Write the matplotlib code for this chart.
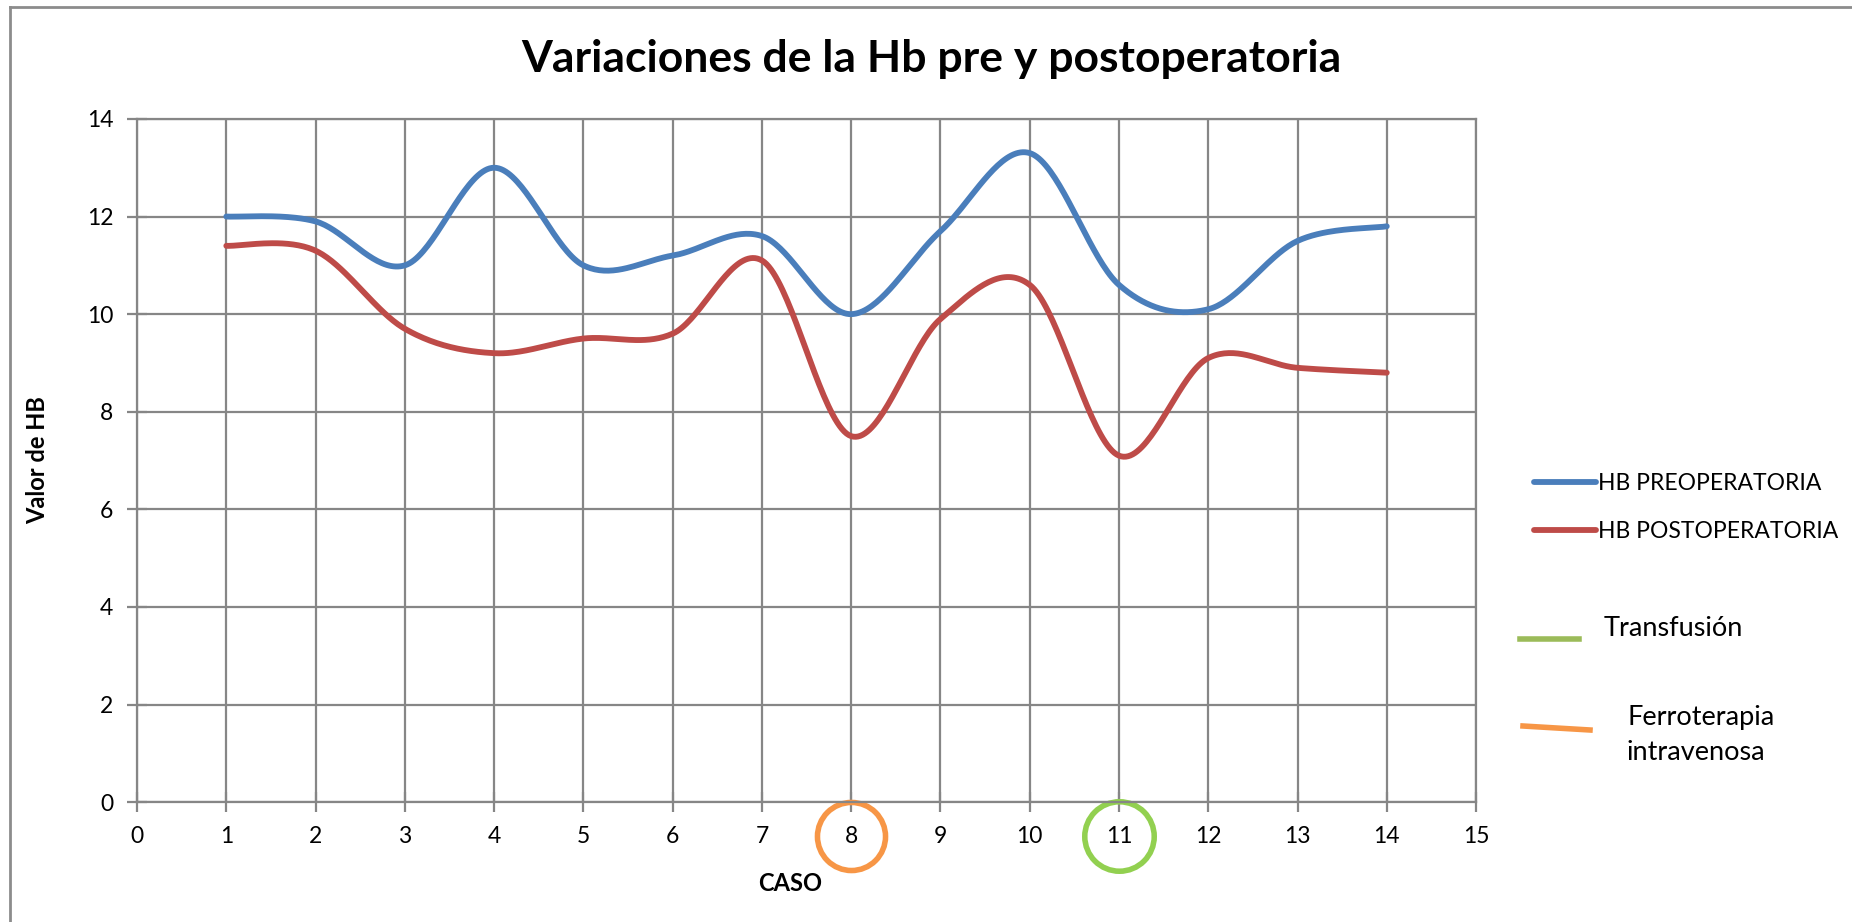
import numpy as np
import matplotlib
matplotlib.use("Agg")
import matplotlib.pyplot as plt
import matplotlib.transforms as mtransforms
from matplotlib.lines import Line2D

plt.rcParams['font.family'] = ['Lato', 'DejaVu Sans']

caso = [1, 2, 3, 4, 5, 6, 7, 8, 9, 10, 11, 12, 13, 14]
hb_pre = [12.0, 11.9, 11.0, 13.0, 11.0, 11.2, 11.6, 10.0, 11.7, 13.3, 10.6, 10.1, 11.5, 11.8]
hb_post = [11.4, 11.3, 9.7, 9.2, 9.5, 9.6, 11.1, 7.5, 9.9, 10.6, 7.1, 9.1, 8.9, 8.8]
x_ticks = list(range(0, 16))
y_ticks = list(range(0, 15, 2))

caso_ferro = 8
caso_transf = 11

blue = '#4A7EBB'
red = '#BE4B48'
grid_c = '#868686'


def smooth(x, y, n=40):
    # excel-like smoothed line (bezier through the points)
    x = np.asarray(x, float)
    y = np.asarray(y, float)
    px = np.concatenate([[x[0]], x, [x[-1]]])
    py = np.concatenate([[y[0]], y, [y[-1]]])
    xs, ys = [], []
    t = np.linspace(0, 1, n)
    for i in range(1, len(px) - 2):
        p0 = np.array([px[i], py[i]])
        p3 = np.array([px[i + 1], py[i + 1]])
        c1 = p0 + (np.array([px[i + 1], py[i + 1]]) - np.array([px[i - 1], py[i - 1]])) / 6
        c2 = p3 - (np.array([px[i + 2], py[i + 2]]) - np.array([px[i], py[i]])) / 6
        b = ((1 - t) ** 3)[:, None] * p0 + (3 * (1 - t) ** 2 * t)[:, None] * c1 \
            + (3 * (1 - t) * t ** 2)[:, None] * c2 + (t ** 3)[:, None] * p3
        xs.append(b[:, 0])
        ys.append(b[:, 1])
    return np.concatenate(xs), np.concatenate(ys)


fig = plt.figure(figsize=(18.52, 9.22), dpi=100)
ax = fig.add_axes([0.074, 0.130, 0.723, 0.741])

sx, sy = smooth(caso, hb_pre)
ax.plot(sx, sy, color=blue, lw=4.2, solid_capstyle='round', label='HB PREOPERATORIA', zorder=5)
sx, sy = smooth(caso, hb_post)
ax.plot(sx, sy, color=red, lw=4.2, solid_capstyle='round', label='HB POSTOPERATORIA', zorder=5)

ax.set_xlim(0, 15)
ax.set_ylim(0, 14)
ax.set_xticks(x_ticks)
ax.set_yticks(y_ticks)
ax.grid(True, color=grid_c, lw=1.6)
ax.set_axisbelow(True)
for s in ax.spines.values():
    s.set_color(grid_c)
    s.set_linewidth(1.6)
ax.tick_params(axis='both', direction='inout', length=14, width=1.6, color=grid_c,
               labelsize=16.5, pad=10)

fig.text(0.503, 0.936, 'Variaciones de la Hb pre y postoperatoria', fontsize=32,
         fontweight='bold', ha='center', va='center')
ax.set_ylabel('Valor de HB', fontsize=17, fontweight='bold')
ax.yaxis.set_label_coords(-0.066, 0.5)
ax.set_xlabel('CASO', fontsize=17, fontweight='bold')
ax.xaxis.set_label_coords(0.488, -0.119)
ax.xaxis.label.set_va('center')

# circles around the marked cases
trans = mtransforms.blended_transform_factory(ax.transData, ax.transAxes)
ax.plot([caso_ferro], [-0.05], marker='o', ms=49, mfc='none', mec='#F79646', mew=4,
        transform=trans, clip_on=False)
ax.plot([caso_transf], [-0.05], marker='o', ms=50, mfc='none', mec='#92D050', mew=4,
        transform=trans, clip_on=False)

leg = ax.legend(loc='center left', bbox_to_anchor=(1.028, 0.431), frameon=False, fontsize=16.5,
                handlelength=2.7, handletextpad=0.1, labelspacing=1.2)

# hand drawn legend additions
fig.add_artist(Line2D([1520 / 1852, 1579 / 1852], [1 - 639 / 922, 1 - 639 / 922],
                      color='#9BBB59', lw=4))
fig.text(1604 / 1852, 1 - 628 / 922, 'Transfusión', fontsize=19.5, va='center')
fig.add_artist(Line2D([1523 / 1852, 1590 / 1852], [1 - 726 / 922, 1 - 730 / 922],
                      color='#F79646', lw=4))
fig.text(1627 / 1852, 1 - 717 / 922, 'Ferroterapia', fontsize=19.5, va='center')
fig.text(1627 / 1852, 1 - 752 / 922, 'intravenosa', fontsize=19.5, va='center')

# outer chart frame (left and top)
fig.add_artist(Line2D([10 / 1852, 10 / 1852], [0, 1 - 7 / 922], color='#8c8c8c', lw=2))
fig.add_artist(Line2D([10 / 1852, 1], [1 - 7 / 922, 1 - 7 / 922], color='#8c8c8c', lw=2))

fig.savefig('out.png', dpi=100)
